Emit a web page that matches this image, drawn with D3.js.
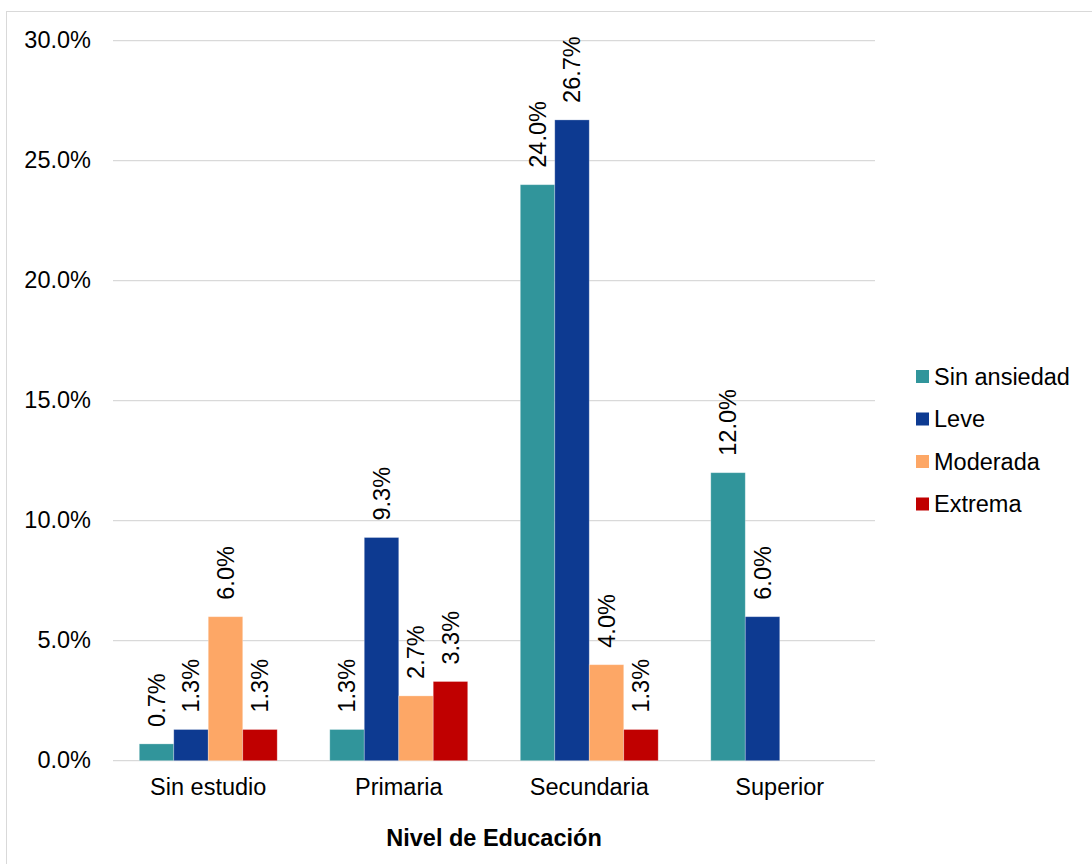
<!DOCTYPE html>
<html>
<head>
<meta charset="utf-8">
<script src="https://cdn.jsdelivr.net/npm/d3@7"></script>
<style>
  html, body { margin: 0; padding: 0; background: #fff; }
  svg { display: block; font-family: "Liberation Sans", Arial, sans-serif; }
</style>
</head>
<body>
<svg id="chart" width="1092" height="864"></svg>
<script>
// Education level categories and anxiety-level series (percent of respondents)
const categories = ["Sin estudio", "Primaria", "Secundaria", "Superior"];
const seriesNames = ["Sin ansiedad", "Leve", "Moderada", "Extrema"];
const sinAnsiedad = [0.7, 1.3, 24.0, 12.0];
const leve = [1.3, 9.3, 26.7, 6.0];
const moderada = [6.0, 2.7, 4.0, null];
const extrema = [1.3, 3.3, 1.3, null];
const yTicks = [0, 5, 10, 15, 20, 25, 30];
const colors = ["#31959B", "#0D3A91", "#FDA766", "#C00000"];
const xTitle = "Nivel de Educación";

const values = [sinAnsiedad, leve, moderada, extrema];

const svg = d3.select("#chart");
const W = 1092, H = 864;
const plot = { left: 113, right: 875, top: 40.7, bottom: 760.7 };

// Outer chart border (top, left, right)
svg.append("rect")
  .attr("x", 6.5).attr("y", 11.5)
  .attr("width", W + 10).attr("height", H + 10)
  .attr("fill", "none").attr("stroke", "#d9d9d9").attr("stroke-width", 1);

const x0 = d3.scaleBand().domain(categories).range([plot.left, plot.right]).paddingInner(0).paddingOuter(0);
const groupInner = 0.724;
const x1 = d3.scaleBand().domain(seriesNames)
  .range([x0.bandwidth() * (1 - groupInner) / 2, x0.bandwidth() * (1 + groupInner) / 2]);
const y = d3.scaleLinear().domain([0, 30]).range([plot.bottom, plot.top]);

// Gridlines
svg.append("g").selectAll("line").data(yTicks).join("line")
  .attr("x1", plot.left).attr("x2", plot.right)
  .attr("y1", d => y(d)).attr("y2", d => y(d))
  .attr("stroke", "#d9d9d9").attr("stroke-width", 1.3);

// Y axis labels
const yAxis = d3.axisLeft(y).tickValues(yTicks).tickFormat(d => d.toFixed(1) + "%").tickSize(0).tickPadding(0);
const yg = svg.append("g").attr("transform", `translate(91,0)`).call(yAxis);
yg.select(".domain").remove();
yg.selectAll("text").attr("font-size", 23.5).attr("fill", "#000")
  .attr("dy", null).attr("y", 6.3)
  .attr("font-family", "'Liberation Sans', Arial, sans-serif");

// Bars
const groups = svg.append("g").selectAll("g").data(categories).join("g")
  .attr("transform", d => `translate(${x0(d)},0)`);

const barData = (cat, ci) => seriesNames.map((s, si) => ({ s, si, v: values[si][ci] }))
  .filter(d => d.v != null);

groups.each(function (cat, ci) {
  const g = d3.select(this);
  const data = barData(cat, ci);
  g.selectAll("rect").data(data).join("rect")
    .attr("x", d => x1(d.s))
    .attr("width", x1.bandwidth())
    .attr("y", d => y(d.v))
    .attr("height", d => y(0) - y(d.v))
    .attr("fill", d => colors[d.si])
    .attr("stroke", "rgba(255,255,255,0.35)").attr("stroke-width", 0.8);

  g.selectAll("text").data(data).join("text")
    .attr("transform", d => `translate(${x1(d.s) + x1.bandwidth() / 2},${y(d.v) - 17}) rotate(-90)`)
    .attr("dy", "0.35em")
    .attr("text-anchor", "start")
    .attr("font-size", 23.5)
    .attr("fill", "#000")
    .text(d => d.v.toFixed(1) + "%");
});

// X axis category labels
const xAxis = d3.axisBottom(x0).tickSize(0).tickPadding(0);
const xg = svg.append("g").attr("transform", `translate(0,${plot.bottom})`).call(xAxis);
xg.select(".domain").remove();
xg.selectAll("text").attr("font-size", 23.5).attr("fill", "#000")
  .attr("dy", null).attr("y", 34.5)
  .attr("font-family", "'Liberation Sans', Arial, sans-serif");

// X axis title
svg.append("text")
  .attr("x", (plot.left + plot.right) / 2).attr("y", 846)
  .attr("text-anchor", "middle").attr("font-size", 23.5).attr("font-weight", "bold")
  .attr("fill", "#000").text(xTitle);

// Legend
const legend = svg.append("g").selectAll("g").data(seriesNames).join("g")
  .attr("transform", (d, i) => `translate(916,${376.5 + i * 42.5})`);
legend.append("rect").attr("x", 0).attr("y", -6.5).attr("width", 13).attr("height", 13)
  .attr("fill", (d, i) => colors[i]);
legend.append("text").attr("x", 18).attr("dy", "0.35em").attr("font-size", 23.5)
  .attr("fill", "#000").text(d => d);
</script>
</body>
</html>
